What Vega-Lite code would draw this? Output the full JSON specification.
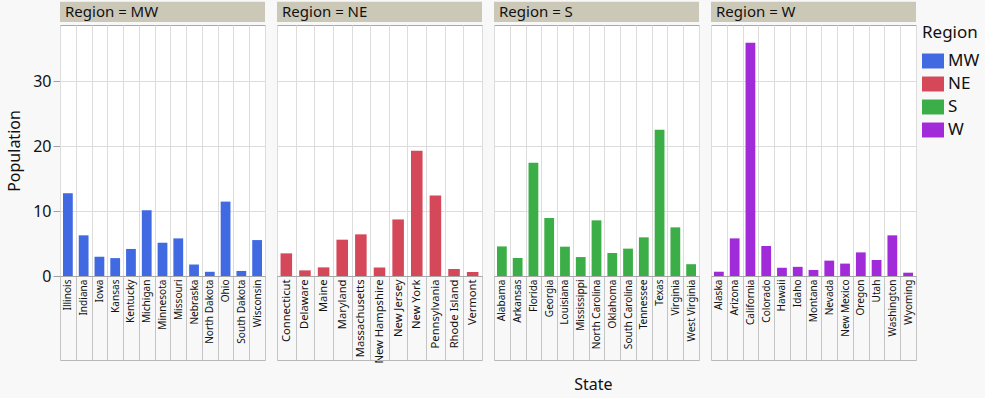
{
  "$schema": "https://vega.github.io/schema/vega-lite/v6.json",
  "background": "#f8f8f8",
  "padding": {"left": 6, "top": 1, "right": 5, "bottom": 5},
  "title": {
    "text": "State",
    "orient": "bottom",
    "anchor": "middle",
    "frame": "bounds",
    "dx": 100,
    "offset": 13,
    "font": "Noto Sans",
    "fontSize": 16,
    "fontWeight": "normal",
    "color": "#111111"
  },
  "data": {"values": [
    {"Region": "MW", "State": "Illinois", "Population": 12.76},
    {"Region": "MW", "State": "Indiana", "Population": 6.27},
    {"Region": "MW", "State": "Iowa", "Population": 2.97},
    {"Region": "MW", "State": "Kansas", "Population": 2.76},
    {"Region": "MW", "State": "Kentucky", "Population": 4.17},
    {"Region": "MW", "State": "Michigan", "Population": 10.14},
    {"Region": "MW", "State": "Minnesota", "Population": 5.13},
    {"Region": "MW", "State": "Missouri", "Population": 5.8},
    {"Region": "MW", "State": "Nebraska", "Population": 1.77},
    {"Region": "MW", "State": "North Dakota", "Population": 0.65},
    {"Region": "MW", "State": "Ohio", "Population": 11.47},
    {"Region": "MW", "State": "South Dakota", "Population": 0.78},
    {"Region": "MW", "State": "Wisconsin", "Population": 5.54},
    {"Region": "NE", "State": "Connecticut", "Population": 3.49},
    {"Region": "NE", "State": "Delaware", "Population": 0.87},
    {"Region": "NE", "State": "Maine", "Population": 1.33},
    {"Region": "NE", "State": "Maryland", "Population": 5.6},
    {"Region": "NE", "State": "Massachusetts", "Population": 6.42},
    {"Region": "NE", "State": "New Hampshire", "Population": 1.31},
    {"Region": "NE", "State": "New Jersey", "Population": 8.72},
    {"Region": "NE", "State": "New York", "Population": 19.31},
    {"Region": "NE", "State": "Pennsylvania", "Population": 12.43},
    {"Region": "NE", "State": "Rhode Island", "Population": 1.08},
    {"Region": "NE", "State": "Vermont", "Population": 0.62},
    {"Region": "S", "State": "Alabama", "Population": 4.56},
    {"Region": "S", "State": "Arkansas", "Population": 2.78},
    {"Region": "S", "State": "Florida", "Population": 17.46},
    {"Region": "S", "State": "Georgia", "Population": 8.94},
    {"Region": "S", "State": "Louisiana", "Population": 4.52},
    {"Region": "S", "State": "Mississippi", "Population": 2.92},
    {"Region": "S", "State": "North Carolina", "Population": 8.58},
    {"Region": "S", "State": "Oklahoma", "Population": 3.55},
    {"Region": "S", "State": "South Carolina", "Population": 4.22},
    {"Region": "S", "State": "Tennessee", "Population": 5.96},
    {"Region": "S", "State": "Texas", "Population": 22.55},
    {"Region": "S", "State": "Virginia", "Population": 7.5},
    {"Region": "S", "State": "West Virginia", "Population": 1.82},
    {"Region": "W", "State": "Alaska", "Population": 0.66},
    {"Region": "W", "State": "Arizona", "Population": 5.8},
    {"Region": "W", "State": "California", "Population": 35.95},
    {"Region": "W", "State": "Colorado", "Population": 4.63},
    {"Region": "W", "State": "Hawaii", "Population": 1.27},
    {"Region": "W", "State": "Idaho", "Population": 1.41},
    {"Region": "W", "State": "Montana", "Population": 0.93},
    {"Region": "W", "State": "Nevada", "Population": 2.37},
    {"Region": "W", "State": "New Mexico", "Population": 1.91},
    {"Region": "W", "State": "Oregon", "Population": 3.64},
    {"Region": "W", "State": "Utah", "Population": 2.47},
    {"Region": "W", "State": "Washington", "Population": 6.27},
    {"Region": "W", "State": "Wyoming", "Population": 0.51}
  ]},
  "facet": {
    "column": {
      "field": "Region",
      "type": "nominal",
      "title": null,
      "header": {"labels": false}
    }
  },
  "spacing": {"column": 12},
  "bounds": "flush",
  "spec": {
    "width": 205,
    "height": 251,
    "layer": [
      {
        "mark": {"type": "bar", "width": {"band": 0.62}},
        "encoding": {
          "x": {
            "field": "State",
            "type": "nominal",
            "scale": {"paddingInner": 0, "paddingOuter": 0},
            "axis": {
              "title": null,
              "tickBand": "extent",
              "tickSize": 84,
              "tickColor": "#c4c4c4",
              "grid": true,
              "gridColor": "#dcdcdc",
              "domainColor": "#a8a8a8",
              "labelAngle": 270,
              "labelAlign": "right",
              "labelBaseline": "middle",
              "labelPadding": -81,
              "labelOverlap": false,
              "labelFont": "Noto Sans",
              "labelColor": "#111111",
              "labelFontSize": {
                "condition": {
                  "test": "indexof(['Connecticut','Delaware','Maine','Maryland','Massachusetts','New Hampshire','New Jersey','New York','Pennsylvania','Rhode Island','Vermont'], datum.value) >= 0",
                  "value": 11.2
                },
                "value": 10.1
              }
            }
          },
          "y": {
            "field": "Population",
            "type": "quantitative",
            "title": "Population",
            "scale": {"domain": [0, 38.7], "nice": false, "zero": true},
            "axis": {
              "values": [0, 10, 20, 30],
              "title": "Population",
              "titleFont": "Noto Sans",
              "titleFontSize": 16,
              "titleFontWeight": "normal",
              "titleColor": "#111111",
              "titlePadding": 10,
              "labelFont": "Noto Sans",
              "labelFontSize": 16,
              "labelColor": "#111111",
              "labelPadding": 2,
              "tickSize": 7,
              "tickColor": "#a0a0a0",
              "domainColor": "#a8a8a8",
              "gridColor": "#dcdcdc"
            }
          },
          "color": {
            "field": "Region",
            "type": "nominal",
            "scale": {"domain": ["MW", "NE", "S", "W"], "range": ["#4169e1", "#d5485a", "#3cae47", "#a22bd9"]},
            "legend": {
              "title": "Region",
              "titleFont": "Noto Sans",
              "titleFontSize": 17,
              "titleFontWeight": "normal",
              "titleColor": "#111111",
              "titlePadding": 8,
              "labelFont": "Noto Sans",
              "labelFontSize": 17,
              "labelColor": "#111111",
              "labelOffset": 4,
              "symbolType": "M-1,-0.68H1V0.68H-1Z",
              "symbolSize": 484,
              "symbolStrokeWidth": 0,
              "rowPadding": 4,
              "offset": 5
            }
          }
        }
      },
      {
        "transform": [{"aggregate": [{"op": "count", "as": "n"}], "groupby": ["Region"]}],
        "mark": {"type": "rect", "color": "#ccc8b8"},
        "encoding": {
          "y": {"datum": 39.17, "type": "quantitative", "title": "Population", "scale": {"domain": [0, 38.7], "nice": false, "zero": true}},
          "y2": {"datum": 42.3}
        }
      },
      {
        "transform": [{"aggregate": [{"op": "count", "as": "n"}], "groupby": ["Region"]}],
        "mark": {
          "type": "text",
          "align": "left",
          "baseline": "middle",
          "dx": 5,
          "font": "Noto Sans",
          "fontSize": 15,
          "color": "#111111",
          "text": {"expr": "'Region = ' + datum.Region"}
        },
        "encoding": {
          "x": {
            "datum": 0,
            "type": "quantitative",
            "scale": {"domain": [0, 1]},
            "axis": {"orient": "bottom", "offset": 84, "labels": false, "ticks": false, "grid": false, "domain": true, "domainColor": "#b8b8b8", "title": null}
          },
          "y": {"datum": 40.65, "type": "quantitative", "title": "Population", "scale": {"domain": [0, 38.7], "nice": false, "zero": true}}
        }
      }
    ],
    "resolve": {"scale": {"x": "independent"}}
  },
  "resolve": {"scale": {"x": "independent"}},
  "config": {
    "view": {"stroke": "#a8a8a8", "fill": "#ffffff"},
    "font": "Noto Sans",
    "facet": {"spacing": 12}
  }
}
